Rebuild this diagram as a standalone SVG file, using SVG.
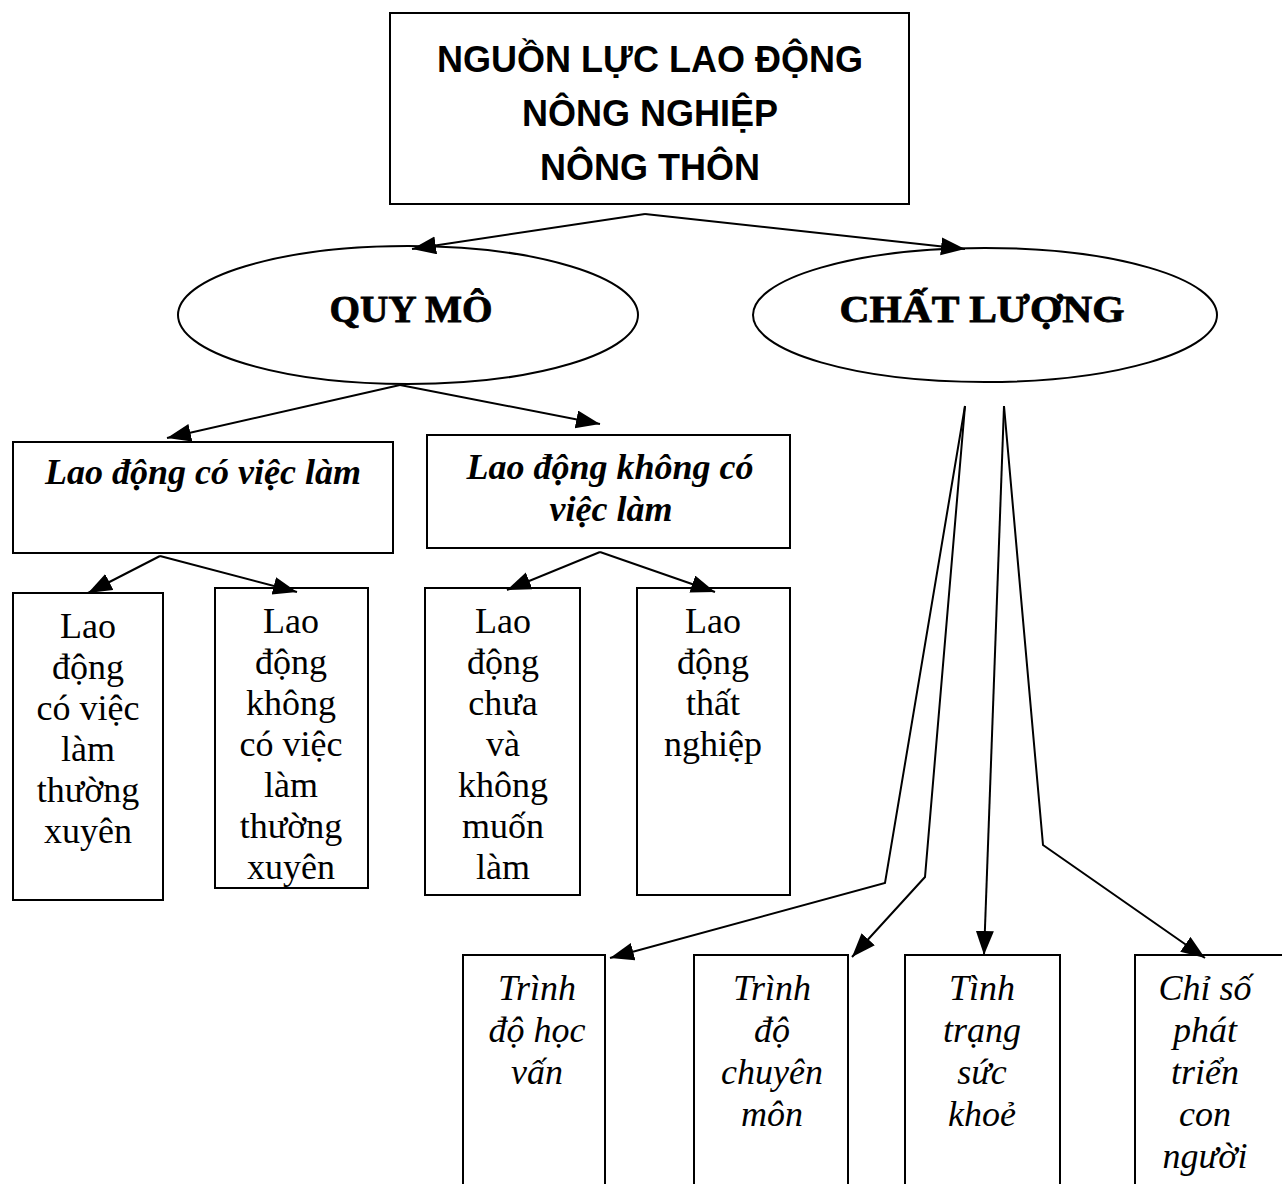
<svg xmlns="http://www.w3.org/2000/svg" width="1282" height="1184" viewBox="0 0 1282 1184">
<style>
.box{fill:#fff;stroke:#000;stroke-width:2}
.con{fill:none;stroke:#000;stroke-width:2}
.t1{font-family:"Liberation Sans",Arial,sans-serif;font-weight:bold;font-size:36px;text-anchor:middle;fill:#000}
.t2{font-family:"Liberation Serif","Times New Roman",serif;font-weight:bold;font-size:38px;text-anchor:middle;fill:#000;stroke:#000;stroke-width:0.8}
.t3{font-family:"Liberation Serif","Times New Roman",serif;font-weight:bold;font-style:italic;font-size:36px;text-anchor:middle;fill:#000}
.t4{font-family:"Liberation Serif","Times New Roman",serif;font-size:36px;text-anchor:middle;fill:#000}
.t5{font-family:"Liberation Serif","Times New Roman",serif;font-style:italic;font-size:36px;text-anchor:middle;fill:#000}
</style>
<defs>
<marker id="ah" markerWidth="26" markerHeight="20" refX="24" refY="9" orient="auto" markerUnits="userSpaceOnUse">
<path d="M0,0 L24,9 L0,18 z" fill="#000"/>
</marker>
</defs>
<rect width="1282" height="1184" fill="#fff"/>
<g id="root">
<rect class="box" x="390" y="13" width="519" height="191"/>
<text class="t1" x="650" y="72">NGUỒN LỰC LAO ĐỘNG</text>
<text class="t1" x="650" y="126">NÔNG NGHIỆP</text>
<text class="t1" x="650" y="180">NÔNG THÔN</text>
</g>
<g id="quymo">
<ellipse class="box" cx="408" cy="315" rx="230" ry="69"/>
<text class="t2" x="411" y="322" textLength="163" lengthAdjust="spacingAndGlyphs">QUY MÔ</text>
</g>
<g id="chatluong">
<ellipse class="box" cx="985" cy="315" rx="232" ry="67"/>
<text class="t2" x="982" y="322" textLength="285" lengthAdjust="spacingAndGlyphs">CHẤT LƯỢNG</text>
</g>
<g id="co-viec-lam">
<rect class="box" x="13" y="442" width="380" height="111"/>
<text class="t3" x="203" y="484">Lao động có việc làm</text>
</g>
<g id="khong-viec-lam">
<rect class="box" x="427" y="435" width="363" height="113"/>
<text class="t3" x="610" y="479">Lao động không có</text>
<text class="t3" x="611" y="521">việc làm</text>
</g>
<g id="b1">
<rect class="box" x="13" y="593" width="150" height="307"/>
<text class="t4" x="88"><tspan x="88" y="638">Lao</tspan><tspan x="88" y="679">động</tspan><tspan x="88" y="720">có việc</tspan><tspan x="88" y="761">làm</tspan><tspan x="88" y="802">thường</tspan><tspan x="88" y="843">xuyên</tspan></text>
</g>
<g id="b2">
<rect class="box" x="215" y="588" width="153" height="300"/>
<text class="t4" x="291"><tspan x="291" y="633">Lao</tspan><tspan x="291" y="674">động</tspan><tspan x="291" y="715">không</tspan><tspan x="291" y="756">có việc</tspan><tspan x="291" y="797">làm</tspan><tspan x="291" y="838">thường</tspan><tspan x="291" y="879">xuyên</tspan></text>
</g>
<g id="b3">
<rect class="box" x="425" y="588" width="155" height="307"/>
<text class="t4" x="503"><tspan x="503" y="633">Lao</tspan><tspan x="503" y="674">động</tspan><tspan x="503" y="715">chưa</tspan><tspan x="503" y="756">và</tspan><tspan x="503" y="797">không</tspan><tspan x="503" y="838">muốn</tspan><tspan x="503" y="879">làm</tspan></text>
</g>
<g id="b4">
<rect class="box" x="637" y="588" width="153" height="307"/>
<text class="t4" x="713"><tspan x="713" y="633">Lao</tspan><tspan x="713" y="674">động</tspan><tspan x="713" y="715">thất</tspan><tspan x="713" y="756">nghiệp</tspan></text>
</g>
<g id="c1">
<rect class="box" x="463" y="955" width="142" height="240"/>
<text class="t5" x="537"><tspan x="537" y="1000">Trình</tspan><tspan x="537" y="1042">độ học</tspan><tspan x="537" y="1084">vấn</tspan></text>
</g>
<g id="c2">
<rect class="box" x="694" y="955" width="154" height="240"/>
<text class="t5" x="772"><tspan x="772" y="1000">Trình</tspan><tspan x="772" y="1042">độ</tspan><tspan x="772" y="1084">chuyên</tspan><tspan x="772" y="1126">môn</tspan></text>
</g>
<g id="c3">
<rect class="box" x="905" y="955" width="155" height="240"/>
<text class="t5" x="982"><tspan x="982" y="1000">Tình</tspan><tspan x="982" y="1042">trạng</tspan><tspan x="982" y="1084">sức</tspan><tspan x="982" y="1126">khoẻ</tspan></text>
</g>
<g id="c4">
<rect class="box" x="1135" y="955" width="160" height="240"/>
<text class="t5" x="1205"><tspan x="1205" y="1000">Chỉ số</tspan><tspan x="1205" y="1042">phát</tspan><tspan x="1205" y="1084">triển</tspan><tspan x="1205" y="1126">con</tspan><tspan x="1205" y="1168">người</tspan></text>
</g>
<g id="connectors">
<path class="con" d="M645,214 L412,249" marker-end="url(#ah)"/>
<path class="con" d="M645,214 L965,249" marker-end="url(#ah)"/>
<path class="con" d="M400,385 L167,438" marker-end="url(#ah)"/>
<path class="con" d="M400,385 L600,424" marker-end="url(#ah)"/>
<path class="con" d="M160,556 L88,593" marker-end="url(#ah)"/>
<path class="con" d="M160,556 L297,592" marker-end="url(#ah)"/>
<path class="con" d="M600,552 L507,590" marker-end="url(#ah)"/>
<path class="con" d="M600,552 L715,592" marker-end="url(#ah)"/>
<path class="con" d="M965,406 L885,883 L610,958" marker-end="url(#ah)"/>
<path class="con" d="M965,406 L925,877 L852,957" marker-end="url(#ah)"/>
<path class="con" d="M1004,406 L984,955" marker-end="url(#ah)"/>
<path class="con" d="M1004,406 L1043,845 L1205,958" marker-end="url(#ah)"/>
</g>
</svg>
